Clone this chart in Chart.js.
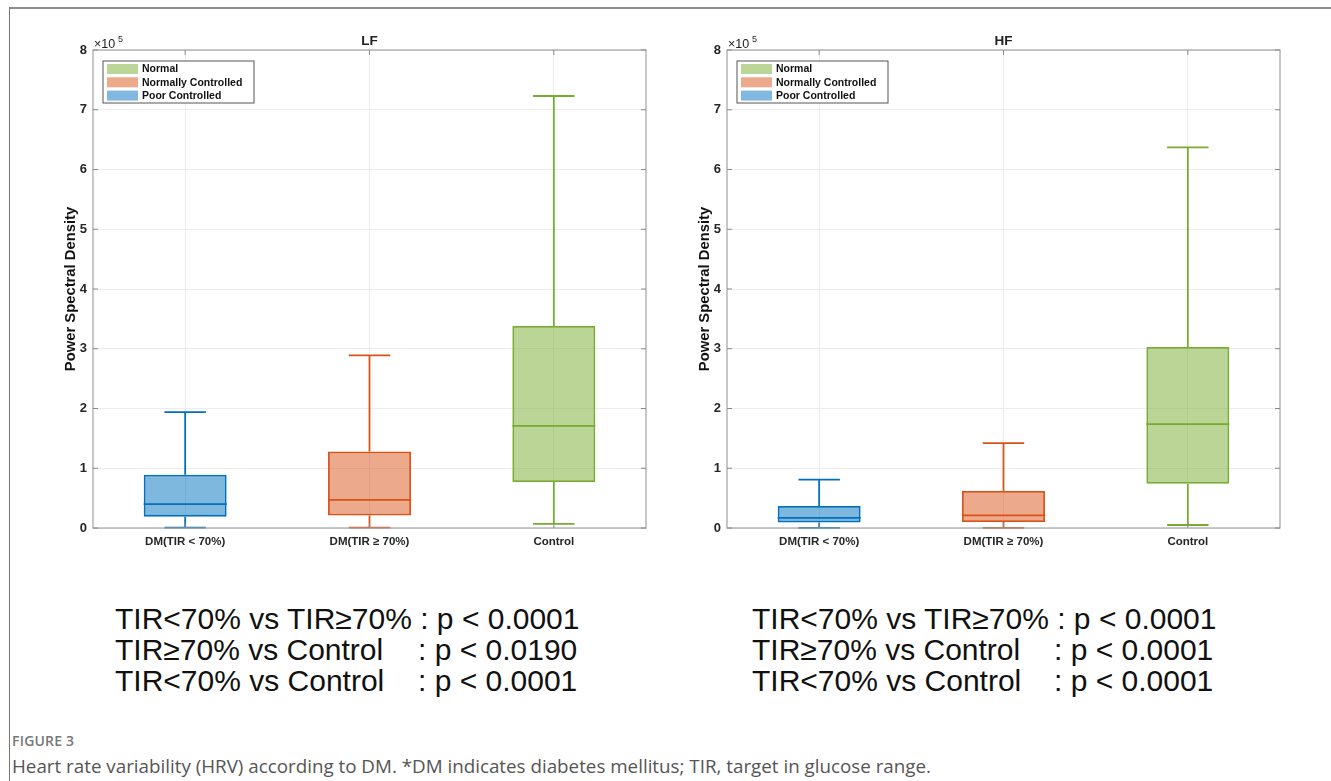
<!DOCTYPE html>
<html>
<head>
<meta charset="utf-8">
<script src="https://cdn.jsdelivr.net/npm/chart.js@4.4.1/dist/chart.umd.min.js"></script>
<style>
  body { margin: 0; background: #fff; width: 1331px; height: 781px; overflow: hidden; position: relative; font-family: "Liberation Sans", Arial, sans-serif; }
  .frame-top { position: absolute; left: 9px; top: 7px; width: 1322px; height: 0; border-top: 2px solid #8c8c8c; }
  .frame-left { position: absolute; left: 9px; top: 7px; width: 0; height: 774px; border-left: 1px solid #777; }
  canvas { position: absolute; top: 0; }
  .stat { position: absolute; font-size: 30px; color: #111; white-space: pre; line-height: 31px; }
  .fig { position: absolute; left: 12px; top: 731px; font-family: "Open Sans", sans-serif; font-size: 14px; font-weight: 600; color: #777; letter-spacing: 0.2px; }
  .cap { position: absolute; left: 12px; top: 753px; font-family: "Open Sans", sans-serif; font-size: 18.8px; color: #555; }
</style>
</head>
<body>
<div class="frame-top"></div>
<div class="frame-left"></div>
<div style="position:absolute;left:0;top:0;width:650px;height:560px"><canvas id="lf"></canvas></div>
<div style="position:absolute;left:634px;top:0;width:650px;height:560px"><canvas id="hf"></canvas></div>
<div id="stats"></div>
<div class="fig">FIGURE 3</div>
<div class="cap">Heart rate variability (HRV) according to DM. *DM indicates diabetes mellitus; TIR, target in glucose range.</div>
<script>
// valores en unidades de 10^5
const categorias = ['DM(TIR < 70%)', 'DM(TIR \u2265 70%)', 'Control'];
const yTicks = [0, 1, 2, 3, 4, 5, 6, 7, 8];

const lfMin = [0.005, 0.005, 0.07];
const lfQ1  = [0.19, 0.21, 0.77];
const lfMed = [0.40, 0.47, 1.71];
const lfQ3  = [0.89, 1.28, 3.38];
const lfMax = [1.94, 2.89, 7.23];

const hfMin = [0.003, 0.003, 0.05];
const hfQ1  = [0.09, 0.10, 0.74];
const hfMed = [0.17, 0.21, 1.74];
const hfQ3  = [0.37, 0.62, 3.03];
const hfMax = [0.81, 1.42, 6.37];

const leyenda = ['Normal', 'Normally Controlled', 'Poor Controlled'];
const lfStats = [
  ['TIR<70% vs TIR\u226570% : p < 0.0001', ''],
  ['TIR\u226570% vs Control', ': p < 0.0190'],
  ['TIR<70% vs Control', ': p < 0.0001']
];
const hfStats = [
  ['TIR<70% vs TIR\u226570% : p < 0.0001', ''],
  ['TIR\u226570% vs Control', ': p < 0.0001'],
  ['TIR<70% vs Control', ': p < 0.0001']
];

const bordes = ['#0072BD', '#D95319', '#77AC30'];
const rellenos = ['rgba(0,114,189,0.5)', 'rgba(217,83,25,0.5)', 'rgba(119,172,48,0.5)'];
const swatches = ['#bcd699', '#eca98c', '#80b8df'];

const FONT = '"Liberation Sans", Arial, sans-serif';

// bigotes, medianas, marco y leyenda
const boxPlugin = {
  id: 'boxPlugin',
  afterDatasetsDraw(chart, args, opts) {
    const { ctx, chartArea: a, scales: { x, y } } = chart;
    const meta = chart.getDatasetMeta(0);
    ctx.save();
    meta.data.forEach((bar, i) => {
      const cx = bar.x, w = bar.width;
      ctx.strokeStyle = bordes[i];
      ctx.lineWidth = 1.8;
      ctx.beginPath();
      // mediana
      const ym = y.getPixelForValue(opts.med[i]);
      ctx.moveTo(cx - w / 2, ym); ctx.lineTo(cx + w / 2, ym);
      // bigote superior
      const yq3 = y.getPixelForValue(opts.q3[i]);
      const yMax = y.getPixelForValue(opts.max[i]);
      ctx.moveTo(cx, yq3); ctx.lineTo(cx, yMax);
      ctx.moveTo(cx - w / 4, yMax); ctx.lineTo(cx + w / 4, yMax);
      // bigote inferior
      const yq1 = y.getPixelForValue(opts.q1[i]);
      const yMin = y.getPixelForValue(opts.min[i]);
      ctx.moveTo(cx, yq1); ctx.lineTo(cx, yMin);
      ctx.moveTo(cx - w / 4, yMin); ctx.lineTo(cx + w / 4, yMin);
      ctx.stroke();
    });

    // marco y ticks hacia dentro
    ctx.strokeStyle = '#a3a3a3';
    ctx.lineWidth = 1.2;
    ctx.strokeRect(a.left, a.top, a.right - a.left, a.bottom - a.top);
    ctx.strokeStyle = '#8a8a8a';
    ctx.lineWidth = 1;
    ctx.beginPath();
    yTicks.forEach(t => {
      const py = y.getPixelForValue(t);
      ctx.moveTo(a.left, py); ctx.lineTo(a.left + 5, py);
      ctx.moveTo(a.right, py); ctx.lineTo(a.right - 5, py);
    });
    categorias.forEach((c, i) => {
      const px = x.getPixelForValue(i);
      ctx.moveTo(px, a.top); ctx.lineTo(px, a.top + 5);
      ctx.moveTo(px, a.bottom); ctx.lineTo(px, a.bottom - 5);
    });
    ctx.stroke();

    // titulo y exponente
    ctx.fillStyle = '#222';
    ctx.font = 'bold 13.5px ' + FONT;
    ctx.textAlign = 'center';
    ctx.textBaseline = 'alphabetic';
    ctx.fillText(opts.titulo, (a.left + a.right) / 2, a.top - 5);
    ctx.textAlign = 'left';
    ctx.font = '12.5px ' + FONT;
    ctx.fillStyle = '#222';
    ctx.fillText('\u00d710', a.left + 1, a.top - 2);
    ctx.font = '9px ' + FONT;
    ctx.fillText('5', a.left + 25, a.top - 8);

    // leyenda
    const lx = a.left + 10, ly = a.top + 11;
    ctx.fillStyle = '#fff';
    ctx.fillRect(lx, ly, 151, 42);
    ctx.strokeStyle = '#555';
    ctx.lineWidth = 1;
    ctx.strokeRect(lx, ly, 151, 42);
    ctx.font = 'bold 10.5px ' + FONT;
    ctx.textBaseline = 'middle';
    leyenda.forEach((t, i) => {
      const ry = ly + 8 + i * 13.3;
      ctx.fillStyle = swatches[i];
      ctx.fillRect(lx + 4, ry - 5, 31, 10);
      ctx.fillStyle = '#111';
      ctx.fillText(t, lx + 39, ry + 0.5);
    });
    ctx.restore();
  }
};

function crearGrafico(id, titulo, min, q1, med, q3, max) {
  const ctx = document.getElementById(id).getContext('2d');
  return new Chart(ctx, {
    type: 'bar',
    data: {
      labels: categorias,
      datasets: [{
        data: q1.map((v, i) => [v, q3[i]]),
        backgroundColor: rellenos,
        borderColor: bordes,
        borderWidth: 1.8,
        borderSkipped: false,
        categoryPercentage: 1,
        barPercentage: 0.45
      }]
    },
    options: {
      responsive: true,
      maintainAspectRatio: false,
      animation: false,
      layout: { padding: { top: 50, left: 55, right: 4, bottom: 0 } },
      plugins: {
        legend: { display: false },
        tooltip: { enabled: false },
        boxPlugin: { titulo, min, q1, med, q3, max }
      },
      scales: {
        x: {
          grid: { offset: false, color: '#ececec', drawTicks: false },
          border: { display: false },
          ticks: { color: '#262626', font: { family: FONT, size: 11.5, weight: 'bold' }, padding: 7, maxRotation: 0 },
          afterFit(s) { s.height = 32; }
        },
        y: {
          min: 0, max: 8,
          grid: { color: '#ececec', drawTicks: false },
          border: { display: false },
          ticks: { stepSize: 1, color: '#262626', font: { family: FONT, size: 13, weight: 'bold' }, padding: 6 },
          title: { display: true, text: 'Power Spectral Density', color: '#111', font: { family: FONT, size: 14.8, weight: 'bold' }, padding: { top: 7, bottom: 0 } },
          afterFit(s) { s.width = 38; }
        }
      }
    },
    plugins: [boxPlugin]
  });
}

crearGrafico('lf', 'LF', lfMin, lfQ1, lfMed, lfQ3, lfMax);
crearGrafico('hf', 'HF', hfMin, hfQ1, hfMed, hfQ3, hfMax);

// textos de p-valores
function escribirStats(lineas, x0, colon) {
  const cont = document.getElementById('stats');
  lineas.forEach((l, i) => {
    const top = 603 + i * 31;
    const a = document.createElement('div');
    a.className = 'stat'; a.style.left = x0 + 'px'; a.style.top = top + 'px'; a.textContent = l[0];
    cont.appendChild(a);
    if (l[1]) {
      const b = document.createElement('div');
      b.className = 'stat'; b.style.left = colon + 'px'; b.style.top = top + 'px'; b.textContent = l[1];
      cont.appendChild(b);
    }
  });
}
escribirStats(lfStats, 115, 418);
escribirStats(hfStats, 752, 1054);
</script>
</body>
</html>
